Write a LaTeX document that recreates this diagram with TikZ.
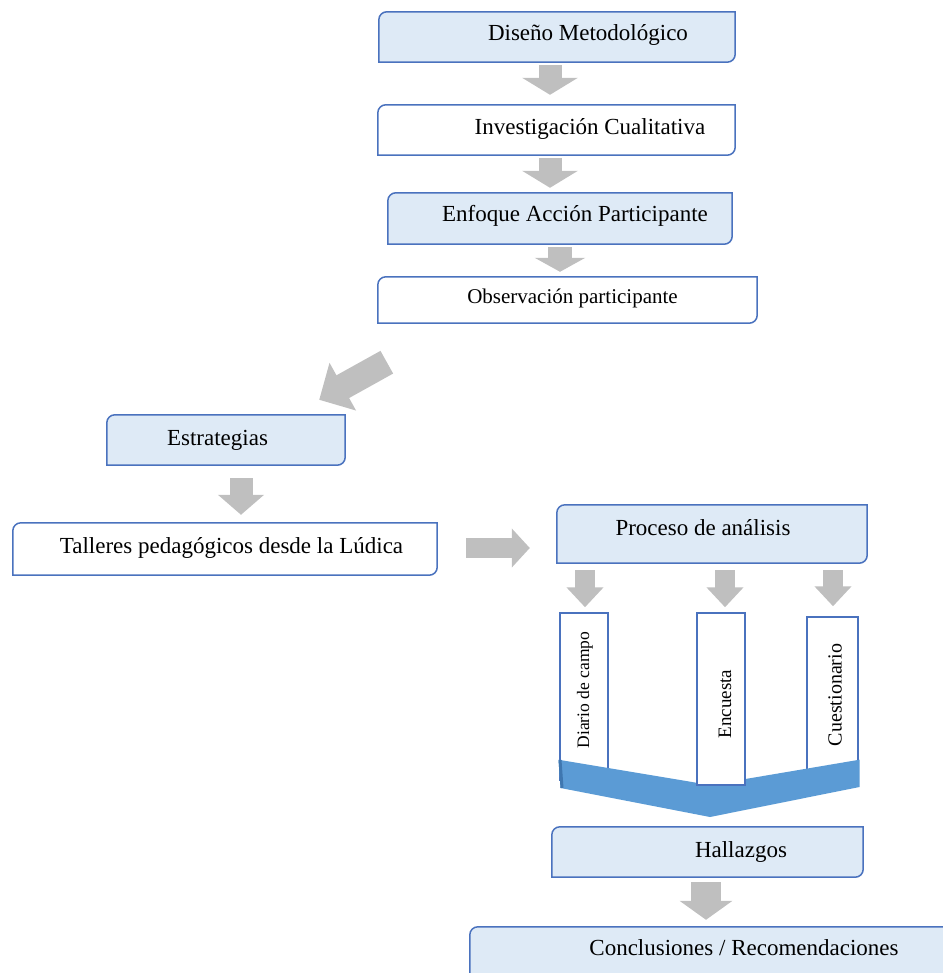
\documentclass[tikz,border=0pt]{standalone}
\usepackage{fontspec}
\setmainfont{Liberation Serif}
\usetikzlibrary{calc,arrows.meta,backgrounds}

\definecolor{boxblue}{HTML}{DEEAF6}
\definecolor{frameblue}{HTML}{4A72BE}
\definecolor{arrowgray}{HTML}{BFBFBF}
\definecolor{chevblue}{HTML}{5B9BD5}
\definecolor{chevdark}{HTML}{3F77B0}

\tikzset{
	flowbox/.style={inner sep=0pt},
	frameline/.style={draw=frameblue, line width=1.5pt},
	boxtext/.style={anchor=base, inner sep=0pt, font=\fontsize{23}{27}\selectfont},
	vbox/.style={draw=frameblue, line width=1.5pt, fill=white, inner sep=0pt},
	garrow/.style args={#1/#2/#3}{draw=arrowgray, line width=#1pt,
		-{Triangle[width=#2pt,length=#3pt]}},
}

% frame with two rounded corners (north west, south east)
\newcommand{\flowframe}[2]{%
	\draw[frameline, fill=#2] (#1.west)
	[rounded corners=8pt] -- (#1.north west)
	[sharp corners] -- (#1.north east)
	[rounded corners=8pt] -- (#1.south east)
	[sharp corners] -- (#1.south west) -- cycle;}

\begin{document}
\begin{tikzpicture}[x=1pt,y=-1pt]

	\useasboundingbox (0,0) rectangle (942,973);

% boxes %{{{2

	\node[flowbox, minimum width=356pt, minimum height=50pt] (dis) at (557,37) {};
	\node[flowbox, minimum width=357pt, minimum height=50pt] (inv) at (556.5,130) {};
	\node[flowbox, minimum width=344pt, minimum height=51pt] (enf) at (560,218.5) {};
	\node[flowbox, minimum width=379pt, minimum height=46pt] (obs) at (567.5,300) {};
	\node[flowbox, minimum width=238pt, minimum height=50pt] (est) at (226,440) {};
	\node[flowbox, minimum width=424pt, minimum height=52pt] (tal) at (225,549) {};
	\node[flowbox, minimum width=310pt, minimum height=58pt] (pro) at (712,534) {};
	\node[flowbox, minimum width=311pt, minimum height=50pt] (hal) at (707.5,852) {};
	\node[flowbox, minimum width=490pt, minimum height=62pt] (con) at (715,958) {};

	\begin{scope}[on background layer]
		\foreach \n in {dis,enf,est,pro,hal,con} { \flowframe{\n}{boxblue} }
		\foreach \n in {inv,obs,tal} { \flowframe{\n}{white} }
	\end{scope}

% texts %{{{2

	\node[boxtext] (dis-t) at (588,41) {Diseño Metodológico};
	\node[boxtext] (inv-t) at (590,134.5) {Investigación Cualitativa};
	\node[boxtext] (enf-t) at (575,222) {Enfoque Acción Participante};
	\node[boxtext, font=\fontsize{21}{25}\selectfont] (obs-t) at (572.5,303) {Observación participante};
	\node[boxtext] (est-t) at (217.5,445) {Estrategias};
	\node[boxtext] (tal-t) at (231.5,553) {Talleres pedagógicos desde la Lúdica};
	\node[boxtext] (pro-t) at (703,535) {Proceso de análisis};
	\node[boxtext] (hal-t) at (741,857) {Hallazgos};
	\node[boxtext] (con-t) at (744,955) {Conclusiones / Recomendaciones};

% instruments %{{{2

	\node[vbox, minimum width=48pt, minimum height=167pt] (dia) at (584,696.5) {};
	\node[vbox, minimum width=51pt, minimum height=163pt] (cue) at (832.5,698.5) {};

	\fill[chevblue] (558.5,759.7) -- (710,785) -- (859.5,759.7) -- (859.5,787)
		-- (710,817) -- (560.5,788) -- cycle;
	\draw[chevdark, line width=3pt] (560,760) -- (562,788);

	\node[vbox, minimum width=48pt, minimum height=172pt] (enc) at (721,699) {};

	\node[boxtext, rotate=90, font=\fontsize{17.5}{20}\selectfont] (dia-t) at (589,690) {Diario de campo};
	\node[boxtext, rotate=90, font=\fontsize{19}{22}\selectfont] (enc-t) at (731,704) {Encuesta};
	\node[boxtext, rotate=90, font=\fontsize{20}{23}\selectfont] (cue-t) at (841.5,695) {Cuestionario};

% arrows %{{{2

	\draw[garrow=23/55/17] ($(dis.south)+(-7,3)$) -- ($(inv.north)+(-6.5,-10)$);
	\draw[garrow=23/55/17] ($(inv.south)+(-6.5,3)$) -- ($(enf.north)+(-10,-5)$);
	\draw[garrow=24/50/14] ($(enf.south)+(0,3)$) -- ($(obs.north)+(-7.5,-5)$);
	\draw[garrow=26/53/27] ($(obs.south west)+(9,39)$) -- ($(est.north east)+(-26,-15)$);
	\draw[garrow=23/45/20] ($(est.south)+(15,13)$) -- ($(tal.north)+(16,-8)$);
	\draw[garrow=20/38/18] ($(tal.east)+(29,-1)$) -- ($(pro.west)+(-27,14)$);

	\foreach \dx/\b/\ex/\ey in {-127/dia/1/-5, 13/enc/4/-5, 121/cue/0.5/-10}
	{ \draw[garrow=20/36/20] ($(pro.south)+(\dx,7)$) -- ($(\b.north)+(\ex,\ey)$); }

	\draw[garrow=30/52/19] ($(hal.south)+(-1.5,5)$) -- ($(con.north)+(-9,-7)$);

% closing %{{{2

\end{tikzpicture}
\end{document}
